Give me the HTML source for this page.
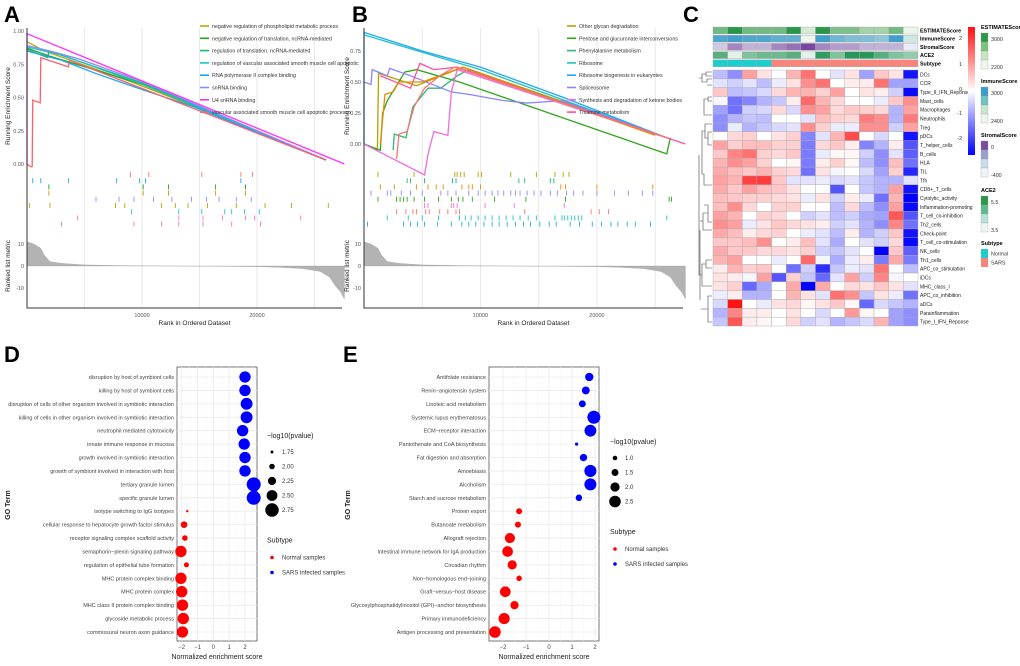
<!DOCTYPE html>
<html><head><meta charset="utf-8">
<style>
html,body{margin:0;padding:0;background:#fff;}
svg{display:block;font-family:"Liberation Sans",sans-serif;}
</style></head>
<body>
<svg id="fig" width="1020" height="666" viewBox="0 0 1020 666" xmlns="http://www.w3.org/2000/svg"></svg>
<script>
// ---------- DATA ----------
const gseaATerms = ["negative regulation of phospholipid metabolic process","negative regulation of translation, ncRNA-mediated","regulation of translation, ncRNA-mediated","regulation of vascular associated smooth muscle cell apoptotic","RNA polymerase II complex binding","snRNA binding","U4 snRNA binding","vascular associated smooth muscle cell apoptotic process"];
const gseaAColors = ["#b5a800","#22a322","#20b56e","#1cc0c8","#1aa6ee","#8a8aff","#ff30ff","#f8606d"];
const gseaACurves = [
 [[0,0.92],[1500,0.85],[9000,0.62],[12000,0.52],[26000,0.03]],
 [[0,0.87],[2000,0.81],[10000,0.6],[26000,0.03]],
 [[0,0.86],[1800,0.8],[1900,0.85],[10000,0.61],[26000,0.03]],
 [[0,0.88],[3000,0.82],[10000,0.6],[26000,0.03]],
 [[0,0.85],[3000,0.78],[6000,0.68],[10000,0.56],[14500,0.43],[26000,0.03]],
 [[0,0.89],[2000,0.85],[4500,0.79],[10000,0.62],[26000,0.03]],
 [[0,0],[0,0.98],[27600,0.0]],
 [[0,0],[300,-0.02],[450,-0.02],[500,0.48],[1150,0.46],[1200,0.8],[3600,0.73],[3700,0.78],[26000,0.03]]
];
const gseaATicks = [
 [9000,10600,15200,18600,19600],
 [500,1200,3600,7800,9800,10300,18600],
 [1900,10100,12300,16400,19000],
 [1900,10100,12300,16400,19000],
 [6000,8000,9300,11000,12600,14300,15600,16700,18200,19500],
 [200,2000,7700,8500,11700,12900,14000,15700,18200,20700,23000,26200],
 [9100,13200,15200,17200,17800,18900,20200],
 [4400,13200,15300,17000,19000,19800,23800],
 [3000,9300,11700,13200,15300,17800,20300]
];
const gseaATickColors = ["#f8766d","#1aa6ee","#22a322","#e08a00","#8a8aff","#b5a800","#1cc0c8","#ff70c0","#ff70c0"];
const gseaBTerms = ["Other glycan degradation","Pentose and glucuronate interconversions","Phenylalanine metabolism","Ribosome","Ribosome biogenesis in eukaryotes","Spliceosome","Synthesis and degradation of ketone bodies","Thiamine metabolism"];
const gseaBColors = ["#b5a000","#2ea51a","#2eb872","#22c0c0","#1ea8f8","#8c84ff","#f06ce0","#ff4fa0"];
const gseaBCurves = [
 [[0,0],[1150,-0.05],[1250,0.57],[4500,0.47],[8500,0.62],[26000,0.05]],
 [[0,0],[1400,-0.05],[1600,0.25],[2000,0.35],[3500,0.58],[4500,0.6],[8200,0.5],[26000,-0.08],[26300,0.05]],
 [[2500,-0.05],[2600,0.08],[3600,0.05],[4200,0.3],[5500,0.45],[6600,0.45],[8000,0.55],[9000,0.6],[26000,0.05]],
 [[0,0.88],[10000,0.6],[26000,0.05]],
 [[0,0],[0,0.9],[5000,0.75],[10000,0.62],[17000,0.38],[26000,0.05]],
 [[0,0.5],[600,0.48],[700,0.6],[2000,0.55],[2200,0.61],[4000,0.55],[7500,0.42],[9000,0.4],[12000,0.35],[14000,0.33],[17000,0.35],[26000,0.05]],
 [[0,0],[5200,-0.25],[5500,-0.08],[6000,0.1],[7200,0.07],[7500,0.42],[8000,0.6],[26000,0.05]],
 [[1400,0.55],[4000,0.45],[4800,0.65],[6000,0.6],[8000,0.62],[27600,0]]
];
const gseaBExtraCurves = [
 [[1400,0],[1800,0.4],[2500,0.42],[3000,0.5],[5000,0.5],[6500,0.55],[8500,0.62],[25000,0.07]],
 [[2800,-0.12],[3000,0.08],[3700,0.1],[4300,0.3],[5200,0.45],[6500,0.55],[7800,0.62],[26000,0.05]]
];
const gseaBExtraColors = ["#e88a00","#f8766d"];
const gseaBTicks = [
 [1200,4300,7800,8000,8300,8600,9800,10100,12600,14800,16400,17100,17600],
 [3700,4000,5200,7600,7900,13300,13800,16000,16300],
 [1400,2600,4500,5500,6200,6800,8400,9000,9300,10000,16900,17300,20000,24800],
 [600,2000,2300,3200,4000,5000,6600,7200,7900,9000,9800,10400,11000,11500,12000,12600,13000,13400,14000,14600,15200,16000,16600,17400,18000,18800,20000,21500,22700,23900,24800],
 [1200,2800,3100,3400,3700,4300,5200,6400,7500,8100,8500,9300,11200,13900,17300,26200,26400],
 [5200,5500,7500,7700,8000,10400,12900,17200],
 [2800,3600,4200,4500,5300,5600,6500,7200,7900,8200,13800,19500,20200,21000],
 [2000,3800,5000,6400,8200,8700,9200,9800,10400,11000,11600,12200,12800,13400,14100,14800,16400,17000,17200,17500,17800,18100,18400,18700,26000],
 [300,3400,4000,4600,5200,6300,7500,8400,9000,9600,10300,11000,11600,12300,13000,13700,14300,15100,15900,16500,17700,18500,19600,20400,21200,21800,22600,23300,24600]
];
const gseaBTickColors = ["#b5a000","#20b56e","#e88a00","#8c84ff","#2ea51a","#ff70d0","#f8766d","#22c0c0","#1ea8f8"];
const metricRanks = [0,600,1200,1500,2000,3000,5000,8000,12000,16000,20000,22000,24000,25500,26300,26800,27300,27600];
const metricVals  = [11,10,8,5,2,1.2,0.5,0.2,0,-0.1,-0.3,-0.6,-1.2,-2.5,-5,-9,-12,-15];

const hmRows = ["DCs","CCR","Type_II_IFN_Reponse","Mast_cells","Macrophages","Neutrophils","Treg","pDCs","T_helper_cells","B_cells","HLA","TIL","Tfh","CD8+_T_cells","Cytolytic_activity","Inflammation-promoting","T_cell_co-inhibition","Th2_cells","Check-point","T_cell_co-stimulation","NK_cells","Th1_cells","APC_co_stimulation","iDCs","MHC_class_I","APC_co_inhibition","aDCs","Parainflammation","Type_I_IFN_Reponse"];
const hmValues = [
[-0.7,-1.2,1,0.3,0,0.8,1.5,0,-0.3,0.3,-1,0.6,0.3,-2.5],
[-0.3,-0.5,-0.3,-0.7,-0.2,0.3,1.2,1.5,0,0.2,0.2,1.5,-1,-1],
[0.6,-0.7,-0.6,-0.4,0.4,0.8,0.8,0.5,1,0,0.3,0.2,-0.5,-2.6],
[-0.1,-1.5,-1.3,-0.8,-0.6,0.2,1.6,0.8,0.4,0,0,-0.2,0.6,1.2],
[-1,-1.5,-0.5,-0.4,0.4,-0.4,1.2,1,0.4,0.6,0.5,0.4,-0.8,1],
[-1.2,-0.8,-0.6,-0.7,0,0,-0.3,0.7,0.5,0.4,1.4,1.2,-0.8,1.4],
[-1.2,-0.2,-0.8,-0.6,-0.4,-0.3,1.2,0.5,-0.2,-0.2,1.2,1.2,-0.5,1],
[0,0.4,0.5,0,0.3,0.5,-1.3,-0.3,0.8,1.9,0,-0.4,0,-2.5],
[1,0.5,0.7,0.7,0.5,0.5,-1.4,0.4,0.6,0.2,-1.3,-0.8,0.2,-1.8],
[0.6,1.3,1.5,0.5,0.4,0.6,-1.4,-0.2,0.1,0.1,-0.5,-1.2,-0.3,-1.7],
[0.8,1.2,1,0.5,0,0.1,-1.4,0.2,0.5,0.1,-0.7,-1.2,0.7,-1.5],
[0.9,0.7,0.6,0.8,0.5,0.4,-1.5,0.3,-0.1,0,-0.4,-1,0.5,-2.3],
[1,0.8,2,2.1,0.6,-0.3,-0.3,-0.2,-0.4,-0.3,-0.6,-0.8,-0.8,-0.3],
[0.9,0.6,1,0.7,0.6,0.3,0,0,-1.8,0,-0.6,-0.8,1,-2.5],
[0.7,0.6,0.5,0.5,0.4,0.3,-0.2,0.3,-0.5,0.2,-0.2,-1.5,0.8,-2.8],
[0.7,1.2,0.4,0,0.5,0.5,0,0,-0.7,0.4,-0.7,-1.2,1,-2.6],
[1,0.8,0,0.5,0.4,0,-0.5,-0.3,-0.7,-0.5,-0.9,-1,1.8,-1.8],
[1.2,1,-0.2,0.3,0.6,0.4,0.3,0.2,-0.5,-0.3,-0.8,-1.2,1.3,-1.5],
[0.9,0.7,0.2,0.4,0.5,0,-0.2,-0.3,-0.7,0.2,-0.8,-0.5,0.6,-2.5],
[0.6,0.6,0.7,1.2,0,0.2,0.7,-0.3,-0.9,0,-0.3,-0.5,0.4,-2.6],
[0.9,0.6,0.6,0.4,0.4,0.3,0.5,-0.5,-0.6,-0.3,0,-2.7,0.6,-1.7],
[0.8,1,0,0,-0.2,0,1.6,-0.1,-0.9,-0.2,0.2,-1.4,0.9,-1.4],
[0.2,0.8,0.5,0.6,0,-1.5,-0.5,-2.2,-0.6,-0.2,-0.3,1.5,0,-0.7],
[0.3,0.2,-0.1,1,-1.8,0.5,-0.6,-1.6,-0.3,1,-0.5,1.3,-0.1,0],
[0.3,0.5,-1.6,-0.9,0,0.9,-2.8,0.9,0,0.4,0.3,0.6,0.3,-0.3],
[-0.2,0.2,-0.8,-0.8,0,0.8,0.3,-0.3,1.5,1.2,-0.6,0.3,-0.2,-1.5],
[-0.4,2.6,0,-0.2,0.3,0.4,0.1,0.3,0.6,0.1,-1.6,-0.4,-0.6,-0.8],
[-0.8,1.3,0.2,0.2,0,0.3,0,-0.4,0,1.1,0.1,0,-1,-1.2],
[-0.6,1.8,0.2,0.1,0,0.4,-0.5,-0.3,-0.8,-0.6,-0.4,0.8,-1,-1.2]
];
const annEstimate = [2700,3000,2700,2700,2700,3000,2300,3000,2650,2650,2500,2500,2700,2200];
const annImmune = [2900,2950,2900,2900,2850,2850,2400,2950,2800,2750,2750,2700,2950,2500];
const annStromal = [-300,-150,-250,-250,-150,-100,0,-150,-200,-200,-250,-250,-250,-380];
const annAce2 = [5.0,3.6,4.6,4.8,4.8,5.0,3.6,5.4,4.6,5.5,5.5,5.0,4.6,4.4];
const annSubtype = ["Normal","Normal","Normal","Normal","SARS","SARS","SARS","SARS","SARS","SARS","SARS","SARS","SARS","SARS"];

const dTerms = ["disruption by host of symbiont cells","killing by host of symbiont cells","disruption of cells of other organism involved in symbiotic interaction","killing of cells in other organism involved in symbiotic interaction","neutrophil mediated cytotoxicity","innate immune response in mucosa","growth involved in symbiotic interaction","growth of symbiont involved in interaction with host","tertiary granule lumen","specific granule lumen","isotype switching to IgG isotypes","cellular response to hepatocyte growth factor stimulus","receptor signaling complex scaffold activity","semaphorin−plexin signaling pathway","regulation of epithelial tube formation","MHC protein complex binding","MHC protein complex","MHC class II protein complex binding","glycoside metabolic process","commissural neuron axon guidance"];
const dNES = [2.0,2.0,2.1,2.1,1.85,1.95,2.0,2.0,2.55,2.55,-1.65,-1.85,-1.8,-2.05,-1.7,-2.05,-2.0,-1.95,-1.9,-1.95];
const dLogP = [2.55,2.55,2.6,2.6,2.55,2.55,2.55,2.55,2.8,2.8,1.7,2.1,2.0,2.55,1.95,2.55,2.55,2.55,2.55,2.55];
const dSizeTicks = [1.75,2.00,2.25,2.50,2.75];
const eTerms = ["Antifolate resistance","Renin−angiotensin system","Linoleic acid metabolism","Systemic lupus erythematosus","ECM−receptor interaction","Pantothenate and CoA biosynthesis","Fat digestion and absorption","Amoebiasis","Alcoholism","Starch and sucrose metabolism","Protein export","Butanoate metabolism","Allograft rejection","Intestinal immune network for IgA production","Circadian rhythm","Non−homologous end−joining","Graft−versus−host disease","Glycosylphosphatidylinositol (GPI)−anchor biosynthesis","Primary immunodeficiency","Antigen processing and presentation"];
const eNES = [1.75,1.6,1.45,1.95,1.8,1.2,1.5,1.8,1.8,1.3,-1.3,-1.35,-1.7,-1.8,-1.6,-1.3,-1.9,-1.5,-1.95,-2.35];
const eLogP = [1.8,1.7,1.5,2.8,2.55,0.7,1.6,2.6,2.6,1.4,1.3,1.3,2.2,2.3,2.0,1.2,2.3,1.8,2.4,2.5];
const eSizeTicks = [1.0,1.5,2.0,2.5];
const xTicksNES = [-2,-1,0,1,2];

// ---------- HELPERS ----------
const NS="http://www.w3.org/2000/svg";
const svg=document.getElementById('fig');
function mk(t,a,p){const e=document.createElementNS(NS,t);for(const k in a)e.setAttribute(k,a[k]);(p||svg).appendChild(e);return e;}
function tag(e,n){
 
 
 return e;}
function txt(x,y,s,size,opts,p){const e=mk('text',Object.assign({x:x,y:y,'font-size':size,fill:'#333'},opts||{}),p);e.textContent=s;return e;}
function grp(n){return tag(mk('g',{}),n);}

// panel labels
[["A",4,22],["B",352,22],["C",683,22],["D",4,362],["E",343,362]].forEach(l=>{
 const t=txt(l[1],l[2],l[0],22,{'font-weight':'bold',fill:'#000'});
 tag(t,'panel-label-'+l[0].toLowerCase());
});

// ---------- GSEA ----------
function gsea(id,x0,x1,yTop,y0,y1px,terms,colors,curves,extraC,extraCol,ticks,tickCols,legX,titleX){
 const g=grp('gsea-panel-'+id);
 const xs=r=>x0+r*(115/10000)*((x1-x0)/315);
 const ys=v=>y0-v*(y0-y1px);
 // grid
 [5000,10000,15000,20000,25000].forEach(r=>{
  const l=mk('line',{x1:xs(r),x2:xs(r),y1:yTop,y2:308,stroke:'#e4e4e4','stroke-width':0.8},g);tag(l,'grid-line');});
 // y ticks
 [0,0.25,0.5,0.75,1].forEach(v=>{ if(ys(v)<yTop-2)return;
  const t=txt(x0-3,ys(v)+2,v.toFixed(2),5.5,{'text-anchor':'end',fill:'#555'},g);tag(t,'y-tick-label');});
 // curves
 const all=curves.map((c,i)=>[c,colors[i]]).concat(extraC.map((c,i)=>[c,extraCol[i]]));
 all.forEach(([c,col],i)=>{
  const p=mk('polyline',{points:c.map(d=>xs(d[0])+','+ys(d[1])).join(' '),fill:'none',stroke:col,'stroke-width':1.3},g);
  tag(p,'enrichment-curve');});
 // hit ticks
 ticks.forEach((row,i)=>{
  const yy=172+i*6.2;
  row.forEach(r=>{const l=mk('line',{x1:xs(r),x2:xs(r),y1:yy,y2:yy+5,stroke:tickCols[i],'stroke-width':0.9},g);tag(l,'hit-tick');});
 });
 // ranked metric
 const my=v=>266-v*2.2;
 let d='M'+xs(metricRanks[0])+','+my(0);
 metricRanks.forEach((r,i)=>{d+=' L'+xs(r)+','+my(metricVals[i]);});
 d+=' L'+xs(metricRanks[metricRanks.length-1])+','+my(0)+' Z';
 const ar=mk('path',{d:d,fill:'#b3b3b3',stroke:'#999','stroke-width':0.3},g);tag(ar,'ranked-metric-area');
 [10,0,-10].forEach(v=>{const t=txt(x0-3,my(v)+2,String(v),5.5,{'text-anchor':'end',fill:'#555'},g);tag(t,'metric-tick-label');});
 // axes
 const ax=mk('path',{d:`M${x0},${yTop} L${x0},308 L${x1},308`,fill:'none',stroke:'#333','stroke-width':1},g);tag(ax,'axis-lines');
 [10000,20000].forEach(r=>{const t=txt(xs(r),317,String(r),5.5,{'text-anchor':'middle',fill:'#555'},g);tag(t,'x-tick-label');});
 const xt=txt((x0+x1)/2+10,325,'Rank in Ordered Dataset',6.5,{'text-anchor':'middle',fill:'#222'},g);tag(xt,'x-axis-title');
 const yt=txt(0,0,'Running Enrichment Score',6.5,{'text-anchor':'middle',fill:'#222',transform:`translate(${titleX},${(yTop+y0)/2+10}) rotate(-90)`},g);tag(yt,'y-axis-title');
 const yt2=txt(0,0,'Ranked list metric',6.5,{'text-anchor':'middle',fill:'#222',transform:`translate(${titleX},266) rotate(-90)`},g);tag(yt2,'metric-axis-title');
 // legend
 const lg=grp('legend-'+id);
 terms.forEach((t,i)=>{const yy=26+i*12.3;
  const l=mk('line',{x1:legX,x2:legX+9,y1:yy,y2:yy,stroke:colors[i],'stroke-width':1.6},lg);tag(l,'legend-swatch');
  const tt=txt(legX+12,yy+2,t,5.3,{fill:'#333'},lg);tag(tt,'legend-entry');});
}
gsea('a',27,342,28,164,31,gseaATerms,gseaAColors,gseaACurves,[],[],gseaATicks,gseaATickColors,200,10);
gsea('b',364,683,28,144,20,gseaBTerms,gseaBColors,gseaBCurves,gseaBExtraCurves,gseaBExtraColors,gseaBTicks,gseaBTickColors,567,349);

// ---------- HEATMAP ----------
(function(){
 const g=grp('heatmap-panel');
 const hx=713,cw=(918-713)/14,hy=70,rh=(326-70)/29;
 function col(v){const c=Math.max(-2.7,Math.min(2.5,v));
  if(c>=0){const t=c/2.5;const gg=Math.round(255-(255-20)*t);return `rgb(255,${gg},${gg})`;}
  const t=-c/2.7;const rr=Math.round(255-255*t);return `rgb(${rr},${rr},255)`;}
 hmValues.forEach((row,ri)=>{row.forEach((v,ci)=>{
  const r=mk('rect',{x:hx+ci*cw,y:hy+ri*rh,width:cw,height:rh,fill:col(v),stroke:'#aaa','stroke-width':0.4},g);tag(r,'heatmap-cell');});
  const t=txt(920,hy+ri*rh+rh/2+2,hmRows[ri],5,{fill:'#222'},g);tag(t,'row-label');});
 // annotations
 function lerp(a,b,t){return `rgb(${a.map((x,i)=>Math.round(x+(b[i]-x)*t)).join(',')})`;}
 const anns=[
  ['ESTIMATEScore',annEstimate,v=>lerp([236,246,232],[40,150,70],(v-2200)/800)],
  ['ImmuneScore',annImmune,v=>lerp([236,246,236],[50,150,200],(v-2400)/600)],
  ['StromalScore',annStromal,v=>lerp([236,244,248],[120,70,160],(v+400)/400)],
  ['ACE2',annAce2,v=>lerp([236,246,240],[40,150,90],(v-3.5)/2)],
  ['Subtype',annSubtype,v=>v==='Normal'?'#1ecece':'#f8847c']];
 anns.forEach((a,ai)=>{const yy=27+ai*8.2;
  a[1].forEach((v,ci)=>{const r=mk('rect',{x:hx+ci*cw,y:yy,width:cw,height:7,fill:a[2](v),stroke:'#aaa','stroke-width':0.4},g);tag(r,'annotation-cell');});
  const t=txt(920,yy+5.5,a[0],5.3,{fill:'#000','font-weight':'bold'},g);tag(t,'annotation-label');});
 // dendrogram
 const dp='M712,72 H706 V76 H712 M706,74 H702 V82 H707 V79 H712 M707,85 H712 M702,78 H699 M712,97 H708 V101 H712 M708,99 H704 V115 H712 M712,132 H708 V145 H712 M708,138 H705 V124 H712 M705,131 H702 V174 H704 V185 H712 M704,205 H708 V222 H712 M708,213 H703 V230 H712 M703,221 H700 M712,260 H706 V268 H712 M706,264 H702 V286 H712 M712,296 H708 V322 H712 M708,309 H701 M702,275 H699 V155 M700,300 V230';
 const dd=mk('path',{d:dp,fill:'none',stroke:'#444','stroke-width':0.6},g);tag(dd,'dendrogram');
 // color bar
 const defs=mk('defs',{});
 const lgr=mk('linearGradient',{id:'hmg',x1:0,y1:0,x2:0,y2:1},defs);
 [['0','#ff1010'],['0.5','#ffffff'],['1','#0000ff']].forEach(s=>mk('stop',{offset:s[0],'stop-color':s[1]},lgr));
 const cb=mk('rect',{x:968,y:27,width:7,height:128,fill:'url(#hmg)'},g);tag(cb,'color-scale-bar');
 [['2',40],['1',66],['0',91],['-1',115],['-2',140]].forEach(l=>{const t=txt(962,l[1],l[0],5.5,{'text-anchor':'end',fill:'#333'},g);tag(t,'color-scale-label');});
 // annotation legends
 const al=[['ESTIMATEScore',29,['#2a9848','#7cc47c','#c8e6c0','#eef6ea'],['3000','2200']],
  ['ImmuneScore',83,['#3a9ccc','#6cc4c4','#c8e6d0','#eef6ea'],['3000','2400']],
  ['StromalScore',137,['#7a4aa0','#9aa0cc','#c8dcec','#eef4f8'],['0','-400']],
  ['ACE2',192,['#2a9848','#5cbc90','#b8e0dc','#eef6f4'],['5.5','3.5']]];
 al.forEach(a=>{const t=txt(981,a[1],a[0],5.5,{fill:'#000','font-weight':'bold'},g);tag(t,'legend-title');
  a[2].forEach((c,i)=>{const r=mk('rect',{x:981,y:a[1]+4+i*9,width:7,height:9,fill:c,stroke:'#999','stroke-width':0.3},g);tag(r,'legend-swatch');});
  const t1=txt(991,a[1]+12,a[3][0],5.3,{fill:'#333'},g);tag(t1,'legend-label');
  const t2=txt(991,a[1]+40,a[3][1],5.3,{fill:'#333'},g);tag(t2,'legend-label');});
 const st=txt(981,245,'Subtype',5.5,{fill:'#000','font-weight':'bold'},g);tag(st,'legend-title');
 [['Normal','#1ecece',249],['SARS','#f8847c',258]].forEach(s=>{const r=mk('rect',{x:981,y:s[2],width:7,height:9,fill:s[1]},g);tag(r,'legend-swatch');
  const t=txt(991,s[2]+6.5,s[0],5.3,{fill:'#333'},g);tag(t,'legend-label');});
})();

// ---------- DOT PLOTS ----------
function dot(id,left,right,xm2,xp2,terms,nes,lp,sizeTicks,rmin,rmax,pmin,pmax,legX,legY,titleX){
 const g=grp('dotplot-'+id);
 const xs=v=>xm2+(v+2)*(xp2-xm2)/4;
 const y0=377,dy=(632-377)/19;
 const ys=i=>y0+i*dy;
 const rs=p=>rmin+(p-pmin)*(rmax-rmin)/(pmax-pmin);
 const bg=mk('rect',{x:left,y:367,width:right-left,height:274,fill:'#fff',stroke:'#555','stroke-width':0.8},g);tag(bg,'plot-area');
 xTicksNES.forEach(v=>{const l=mk('line',{x1:xs(v),x2:xs(v),y1:367,y2:641,stroke:'#ebebeb','stroke-width':0.8},g);tag(l,'grid-line');
  const l2=mk('line',{x1:xs(v)+(xp2-xm2)/8,x2:xs(v)+(xp2-xm2)/8,y1:367,y2:641,stroke:'#f4f4f4','stroke-width':0.5},g);tag(l2,'minor-grid');
  const t=txt(xs(v),649,String(v).replace('-','−'),6,{'text-anchor':'middle',fill:'#444'},g);tag(t,'x-tick-label');});
 terms.forEach((t,i)=>{const l=mk('line',{x1:left,x2:right,y1:ys(i),y2:ys(i),stroke:'#ebebeb','stroke-width':0.8},g);tag(l,'grid-line');
  const tt=txt(left-3,ys(i)+2,t,5.5,{'text-anchor':'end',fill:'#444'},g);tag(tt,'y-tick-label');
  const c=mk('circle',{cx:xs(nes[i]),cy:ys(i),r:rs(lp[i]),fill:nes[i]>0?'#0000ff':'#ff0000'},g);tag(c,'dot-'+(nes[i]>0?'sars':'normal'));});
 const xt=txt((left+right)/2,659,'Normalized enrichment score',7,{'text-anchor':'middle',fill:'#222'},g);tag(xt,'x-axis-title');
 const yt=txt(0,0,'GO Term',7,{'text-anchor':'middle',fill:'#222','font-weight':'bold',transform:`translate(${titleX},505) rotate(-90)`},g);tag(yt,'y-axis-title');
 const lt=txt(legX,legY,'−log10(pvalue)',7,{fill:'#222'},g);tag(lt,'size-legend-title');
 sizeTicks.forEach((s,i)=>{const yy=legY+14+i*14.5;
  const c=mk('circle',{cx:legX+5,cy:yy,r:rs(s),fill:'#000'},g);tag(c,'size-legend-dot');
  const t=txt(legX+15,yy+2,s.toFixed(id==='e'?1:2),6,{fill:'#333'},g);tag(t,'size-legend-label');});
 const sy=legY+14+sizeTicks.length*14.5+18;
 const st=txt(legX,sy,'Subtype',7,{fill:'#222'},g);tag(st,'subtype-legend-title');
 [['Normal samples','#ff0000'],['SARS infected samples','#0000ff']].forEach((s,i)=>{
  const c=mk('circle',{cx:legX+5,cy:sy+15+i*15,r:1.8,fill:s[1]},g);tag(c,'subtype-legend-dot');
  const t=txt(legX+15,sy+17+i*15,s[0],6,{fill:'#333'},g);tag(t,'subtype-legend-label');});
}
dot('d',177,257,181.7,245,dTerms,dNES,dLogP,dSizeTicks,1.2,7.0,1.7,2.8,267,438,10);
dot('e',489,599,503,595,eTerms,eNES,eLogP,eSizeTicks,1.6,6.5,0.7,2.8,610,444,350);
</script>
</body></html>
